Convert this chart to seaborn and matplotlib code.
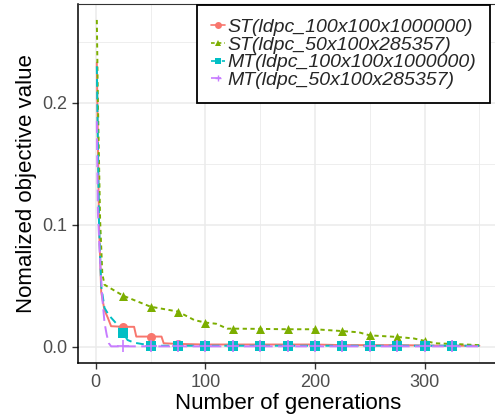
import numpy as np
import pandas as pd
import matplotlib.pyplot as plt
import seaborn as sns
from matplotlib.lines import Line2D

# series names as in the legend
nombres = ['ST(ldpc_100x100x1000000)', 'ST(ldpc_50x100x285357)',
           'MT(ldpc_100x100x1000000)', 'MT(ldpc_50x100x285357)']

# values (generation, normalized objective value)
st100_gen = [1, 3, 5, 8, 11, 14, 25, 35, 37, 50, 60, 62, 75, 100, 125, 150, 175, 200, 225, 250, 275, 300, 325, 350]
st100_val = [0.233, 0.10, 0.045, 0.030, 0.024, 0.017, 0.0165, 0.0165, 0.0085, 0.0085, 0.0085, 0.003, 0.0025,
             0.002, 0.002, 0.002, 0.002, 0.002, 0.0015, 0.0015, 0.0015, 0.0012, 0.001, 0.001]

st50_gen = [1, 2, 4, 6, 8, 25, 50, 75, 90, 100, 110, 120, 125, 150, 175, 200, 225, 240, 250, 275, 290, 300, 310, 325, 350]
st50_val = [0.268, 0.20, 0.104, 0.060, 0.051, 0.042, 0.033, 0.029, 0.022, 0.020, 0.019, 0.015, 0.015, 0.0148,
            0.0145, 0.0145, 0.013, 0.012, 0.0095, 0.0082, 0.007, 0.005, 0.003, 0.0025, 0.0015]

mt100_gen = [1, 3, 5, 8, 12, 16, 22, 25, 29, 35, 45, 50, 75, 100, 125, 150, 175, 200, 225, 250, 275, 300, 325, 350]
mt100_val = [0.23, 0.10, 0.05, 0.032, 0.026, 0.022, 0.016, 0.0115, 0.0057, 0.0035, 0.002, 0.001, 0.001,
             0.001, 0.001, 0.001, 0.001, 0.001, 0.001, 0.001, 0.001, 0.001, 0.001, 0.001]

mt50_gen = [1, 2, 4, 6, 8, 10, 12, 14, 25, 50, 75, 100, 125, 150, 175, 200, 225, 250, 275, 300, 325, 350]
mt50_val = [0.185, 0.11, 0.07, 0.04, 0.02, 0.01, 0.003, 0.0005, 0.0005, 0.0005, 0.0005, 0.0005, 0.0005,
            0.0005, 0.0005, 0.0005, 0.0005, 0.0005, 0.0005, 0.0005, 0.0005, 0.0005]

# generations that carry a marker
gen_marcadores = [25, 50, 75, 100, 125, 150, 175, 200, 225, 250, 275, 300, 325]

colores = ['#F8766D', '#7CAE00', '#00BFC4', '#C77CFF']
marcadores = ['o', '^', 's', '+']
trazos = ['', (2.2, 1.8), (4, 2.5), (6, 2.8)]


def crear_df(gen, val, nombre):
    return pd.DataFrame({'gen': gen, 'val': val, 'serie': [nombre for _ in range(len(gen))]})


df = pd.concat([crear_df(st100_gen, st100_val, nombres[0]),
                crear_df(st50_gen, st50_val, nombres[1]),
                crear_df(mt100_gen, mt100_val, nombres[2]),
                crear_df(mt50_gen, mt50_val, nombres[3])], ignore_index=True)

sns.set_style('white')
plt.rcParams['font.family'] = ['Liberation Sans', 'DejaVu Sans']

fig = plt.figure(figsize=(4.95, 4.2), dpi=100)
ax = fig.add_axes([77.7 / 495, 1 - 363.3 / 420, 420.8 / 495, 359.7 / 420])

paleta = dict(zip(nombres, colores))
sns.lineplot(data=df, x='gen', y='val', hue='serie', style='serie', palette=paleta,
             dashes=dict(zip(nombres, trazos)), linewidth=1.4, estimator=None,
             legend=False, ax=ax, zorder=3)

for nombre, color, marca in zip(nombres, colores, marcadores):
    sub = df[(df.serie == nombre) & (df.gen.isin(gen_marcadores))]
    if marca == '+':
        sns.scatterplot(data=sub, x='gen', y='val', color=color, marker=marca, s=70,
                        linewidth=1.2, ax=ax, zorder=4)
    else:
        sns.scatterplot(data=sub, x='gen', y='val', color=color, marker=marca, s=42,
                        linewidth=0, ax=ax, zorder=4)

ax.set_xlim(-16.45, 367.45)
ax.set_ylim(-0.0134, 0.2814)
ax.set_xticks([0, 100, 200, 300])
ax.set_yticks([0.0, 0.1, 0.2])
ax.set_yticklabels(['0.0', '0.1', '0.2'])
ax.set_xticks([50, 150, 250, 350], minor=True)
ax.set_yticks([0.05, 0.15, 0.25], minor=True)
ax.grid(True, which='major', color='#EBEBEB', linewidth=1.1, zorder=0)
ax.grid(True, which='minor', color='#EBEBEB', linewidth=0.6, zorder=0)
ax.set_axisbelow(True)
ax.tick_params(which='major', length=4, width=1, color='#333333', labelsize=13,
               labelcolor='#4D4D4D', bottom=True, left=True)
ax.tick_params(which='minor', length=0)

for lado in ['top', 'right']:
    ax.spines[lado].set_color('#333333')
    ax.spines[lado].set_linewidth(0.8)
for lado in ['left', 'bottom']:
    ax.spines[lado].set_color('black')
    ax.spines[lado].set_linewidth(1.1)

ax.set_xlabel('Number of generations', fontsize=16, color='black', labelpad=2)
ax.set_ylabel('Nomalized objective value', fontsize=16, color='black', labelpad=4)

manijas = []
for nombre, color, marca, trazo in zip(nombres, colores, marcadores, trazos):
    h = Line2D([], [], color=color, marker=marca, markersize=5, linewidth=1.2,
               markeredgewidth=1 if marca == '+' else 0)
    if trazo != '':
        h.set_dashes(trazo)
    manijas.append(h)

ley = ax.legend(manijas, nombres, loc='upper right', bbox_to_anchor=(490 / 495, 1 - 5 / 420),
                bbox_transform=fig.transFigure, prop={'style': 'italic', 'size': 14},
                frameon=True, fancybox=False, edgecolor='black', framealpha=1,
                handlelength=0.75, handletextpad=0.12, labelspacing=0.0, borderpad=0.7,
                borderaxespad=0)
ley.get_frame().set_linewidth(1.3)

plt.savefig('out.png', dpi=100)
